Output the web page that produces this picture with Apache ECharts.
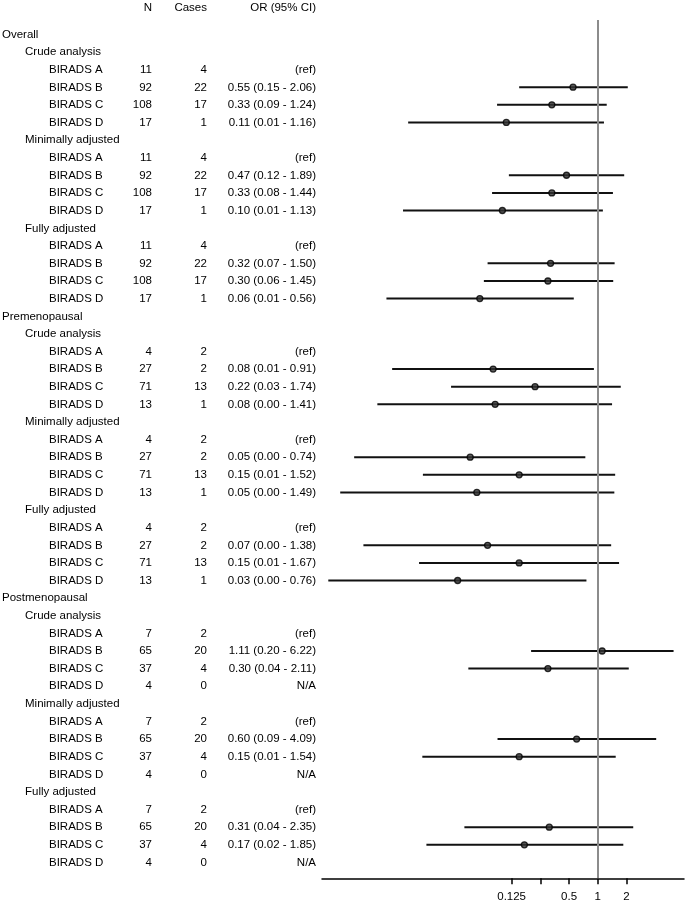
<!DOCTYPE html>
<html>
<head>
<meta charset="utf-8">
<script src="https://cdn.jsdelivr.net/npm/echarts@6/dist/echarts.min.js"></script>
<style>
  html, body { margin: 0; padding: 0; background: #fff; }
  #main { width: 685px; height: 901px; }
</style>
</head>
<body>
<div id="main"></div>
<script>
// ---------------- DATA ----------------
const headerLabels = ['N', 'Cases', 'OR (95% CI)'];

const rowLabels = [
  'Overall', 'Crude analysis', 'BIRADS A', 'BIRADS B', 'BIRADS C', 'BIRADS D',
  'Minimally adjusted', 'BIRADS A', 'BIRADS B', 'BIRADS C', 'BIRADS D',
  'Fully adjusted', 'BIRADS A', 'BIRADS B', 'BIRADS C', 'BIRADS D',
  'Premenopausal', 'Crude analysis', 'BIRADS A', 'BIRADS B', 'BIRADS C', 'BIRADS D',
  'Minimally adjusted', 'BIRADS A', 'BIRADS B', 'BIRADS C', 'BIRADS D',
  'Fully adjusted', 'BIRADS A', 'BIRADS B', 'BIRADS C', 'BIRADS D',
  'Postmenopausal', 'Crude analysis', 'BIRADS A', 'BIRADS B', 'BIRADS C', 'BIRADS D',
  'Minimally adjusted', 'BIRADS A', 'BIRADS B', 'BIRADS C', 'BIRADS D',
  'Fully adjusted', 'BIRADS A', 'BIRADS B', 'BIRADS C', 'BIRADS D'
];

// indentation level: 0 = population, 1 = analysis, 2 = category
const rowLevels = [
  0, 1, 2, 2, 2, 2, 1, 2, 2, 2, 2, 1, 2, 2, 2, 2,
  0, 1, 2, 2, 2, 2, 1, 2, 2, 2, 2, 1, 2, 2, 2, 2,
  0, 1, 2, 2, 2, 2, 1, 2, 2, 2, 2, 1, 2, 2, 2, 2
];

const nValues = [
  null, null, 11, 92, 108, 17, null, 11, 92, 108, 17, null, 11, 92, 108, 17,
  null, null, 4, 27, 71, 13, null, 4, 27, 71, 13, null, 4, 27, 71, 13,
  null, null, 7, 65, 37, 4, null, 7, 65, 37, 4, null, 7, 65, 37, 4
];

const caseValues = [
  null, null, 4, 22, 17, 1, null, 4, 22, 17, 1, null, 4, 22, 17, 1,
  null, null, 2, 2, 13, 1, null, 2, 2, 13, 1, null, 2, 2, 13, 1,
  null, null, 2, 20, 4, 0, null, 2, 20, 4, 0, null, 2, 20, 4, 0
];

const orLabels = [
  null, null, '(ref)', '0.55 (0.15 - 2.06)', '0.33 (0.09 - 1.24)', '0.11 (0.01 - 1.16)',
  null, '(ref)', '0.47 (0.12 - 1.89)', '0.33 (0.08 - 1.44)', '0.10 (0.01 - 1.13)',
  null, '(ref)', '0.32 (0.07 - 1.50)', '0.30 (0.06 - 1.45)', '0.06 (0.01 - 0.56)',
  null, null, '(ref)', '0.08 (0.01 - 0.91)', '0.22 (0.03 - 1.74)', '0.08 (0.00 - 1.41)',
  null, '(ref)', '0.05 (0.00 - 0.74)', '0.15 (0.01 - 1.52)', '0.05 (0.00 - 1.49)',
  null, '(ref)', '0.07 (0.00 - 1.38)', '0.15 (0.01 - 1.67)', '0.03 (0.00 - 0.76)',
  null, null, '(ref)', '1.11 (0.20 - 6.22)', '0.30 (0.04 - 2.11)', 'N/A',
  null, '(ref)', '0.60 (0.09 - 4.09)', '0.15 (0.01 - 1.54)', 'N/A',
  null, '(ref)', '0.31 (0.04 - 2.35)', '0.17 (0.02 - 1.85)', 'N/A'
];

const orPoint = [
  null, null, null, 0.55, 0.33, 0.11, null, null, 0.47, 0.33, 0.10, null, null, 0.32, 0.30, 0.058,
  null, null, null, 0.08, 0.22, 0.084, null, null, 0.046, 0.15, 0.054, null, null, 0.07, 0.15, 0.034,
  null, null, null, 1.11, 0.30, null, null, null, 0.60, 0.15, null, null, null, 0.31, 0.17, null
];
const ciLow = [
  null, null, null, 0.15, 0.088, 0.0103, null, null, 0.117, 0.078, 0.0091, null, null, 0.07, 0.064, 0.0061,
  null, null, null, 0.007, 0.029, 0.0049, null, null, 0.0028, 0.0147, 0.0020, null, null, 0.0035, 0.0134, 0.0015,
  null, null, null, 0.20, 0.044, null, null, null, 0.089, 0.0145, null, null, null, 0.04, 0.016, null
];
const ciHigh = [
  null, null, null, 2.06, 1.24, 1.16, null, null, 1.89, 1.44, 1.13, null, null, 1.50, 1.45, 0.56,
  null, null, null, 0.91, 1.74, 1.41, null, null, 0.74, 1.52, 1.49, null, null, 1.38, 1.67, 0.76,
  null, null, null, 6.22, 2.11, null, null, null, 4.09, 1.54, null, null, null, 2.35, 1.85, null
];

const refValue = 1;
const tickValues = [0.125, 0.25, 0.5, 1, 2];
const tickLabels = [0.125, 0.5, 1, 2];

// ---------------- LAYOUT / STYLE ----------------
const FONT_FAMILY = "'Liberation Sans', Arial, sans-serif";
const FONT_SIZE = 11.5;
const levelX = [2, 25, 49];
const colNRight = 152;
const colCasesRight = 207;
const colORRight = 316;
const headerRow = -1.5;

function txt(x, y, text, align) {
  return {
    type: 'text',
    x: x, y: y,
    style: {
      text: String(text),
      fill: '#000',
      fontSize: FONT_SIZE,
      fontFamily: FONT_FAMILY,
      align: align,
      verticalAlign: 'middle'
    }
  };
}

const estData = [];
const pointData = [];
orPoint.forEach((v, i) => {
  if (v != null) {
    estData.push([ciLow[i], ciHigh[i], i]);
    pointData.push([v, i]);
  }
});

const chart = echarts.init(document.getElementById('main'), null, { renderer: 'canvas' });

const option = {
  animation: false,
  backgroundColor: '#fff',
  textStyle: { fontFamily: FONT_FAMILY },
  grid: [
    { left: 0, top: 0.3, width: 320, bottom: 22.7, containLabel: false, outerBoundsMode: 'none' },
    { left: 322, top: 20, width: 362, bottom: 22.7, containLabel: false, outerBoundsMode: 'none' }
  ],
  xAxis: [
    { gridIndex: 0, type: 'value', min: 0, max: 320, show: false },
    {
      gridIndex: 1, type: 'log', logBase: 2, position: 'bottom',
      min: Math.pow(2, -9.6), max: 8,
      axisLine: { show: true, onZero: false, lineStyle: { color: '#000', width: 1.5 } },
      axisTick: { show: true, customValues: tickValues, length: 6, inside: false,
                  lineStyle: { color: '#000', width: 1.5 } },
      axisLabel: {
        show: true, customValues: tickLabels, margin: 13,
        color: '#000', fontSize: FONT_SIZE, fontFamily: FONT_FAMILY,
        formatter: v => String(+(+v).toPrecision(6))
      },
      splitLine: { show: false }
    }
  ],
  yAxis: [
    { gridIndex: 0, type: 'value', inverse: true, min: -1.9466, max: 47.9, show: false },
    { gridIndex: 1, type: 'value', inverse: true, min: -0.8116, max: 47.9, show: false }
  ],
  series: [
    // header row
    {
      type: 'custom', xAxisIndex: 0, yAxisIndex: 0, silent: true,
      data: [[0, headerRow]],
      renderItem: function (params, api) {
        const y = api.coord([0, headerRow])[1];
        return {
          type: 'group',
          children: [
            txt(api.coord([colNRight, headerRow])[0], y, headerLabels[0], 'right'),
            txt(api.coord([colCasesRight, headerRow])[0], y, headerLabels[1], 'right'),
            txt(api.coord([colORRight, headerRow])[0], y, headerLabels[2], 'right')
          ]
        };
      }
    },
    // table rows
    {
      type: 'custom', xAxisIndex: 0, yAxisIndex: 0, silent: true,
      data: rowLabels.map((_, i) => [0, i]),
      renderItem: function (params, api) {
        const i = params.dataIndex;
        const y = api.coord([0, i])[1];
        const children = [txt(api.coord([levelX[rowLevels[i]], i])[0], y, rowLabels[i], 'left')];
        if (nValues[i] != null) children.push(txt(api.coord([colNRight, i])[0], y, nValues[i], 'right'));
        if (caseValues[i] != null) children.push(txt(api.coord([colCasesRight, i])[0], y, caseValues[i], 'right'));
        if (orLabels[i] != null) children.push(txt(api.coord([colORRight, i])[0], y, orLabels[i], 'right'));
        return { type: 'group', children: children };
      }
    },
    // reference line at OR = 1
    {
      type: 'line', xAxisIndex: 1, yAxisIndex: 1, data: [], z: 1,
      markLine: {
        silent: true, symbol: 'none', label: { show: false },
        lineStyle: { color: '#8c8c8c', width: 2, type: 'solid' },
        data: [{ xAxis: refValue }]
      }
    },
    // confidence intervals
    {
      type: 'custom', xAxisIndex: 1, yAxisIndex: 1, silent: true, z: 3,
      data: estData,
      encode: { x: [0, 1], y: 2 },
      renderItem: function (params, api) {
        const p1 = api.coord([api.value(0), api.value(2)]);
        const p2 = api.coord([api.value(1), api.value(2)]);
        return {
          type: 'line',
          shape: { x1: p1[0], y1: p1[1], x2: p2[0], y2: p2[1] },
          style: { stroke: '#111', lineWidth: 2 }
        };
      }
    },
    // point estimates
    {
      type: 'scatter', xAxisIndex: 1, yAxisIndex: 1, silent: true, z: 4,
      data: pointData,
      symbol: 'circle', symbolSize: 6,
      itemStyle: { color: '#333', borderColor: '#000', borderWidth: 1.3 }
    }
  ]
};

chart.setOption(option);
</script>
</body>
</html>
